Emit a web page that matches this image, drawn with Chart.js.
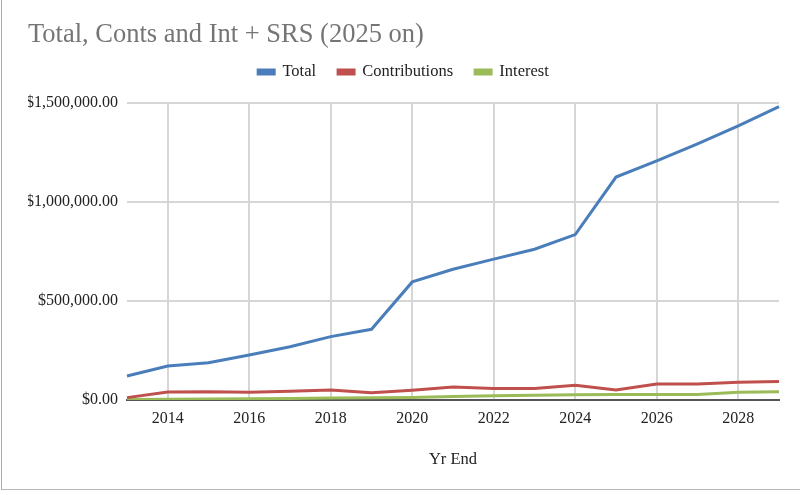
<!DOCTYPE html>
<html>
<head>
<meta charset="utf-8">
<script src="https://cdn.jsdelivr.net/npm/chart.js@4/dist/chart.umd.min.js"></script>
<style>
  html, body { margin: 0; padding: 0; background: #fff; }
  #wrap { position: relative; width: 800px; height: 490px; }
  #frame { position: absolute; left: 1px; top: 0; width: 799px; height: 489px;
           border-left: 1px solid #a8a8a8; border-bottom: 2px solid #b8b8b8; pointer-events: none; box-sizing: content-box; }
</style>
</head>
<body>
<div id="wrap">
  <canvas id="c" width="800" height="490"></canvas>
  <div id="frame"></div>
</div>
<script>
const years = [2013, 2014, 2015, 2016, 2017, 2018, 2019, 2020, 2021, 2022, 2023, 2024, 2025, 2026, 2027, 2028, 2029];
const total = [121000, 172000, 188000, 227000, 269000, 320000, 357000, 596000, 660000, 711000, 761000, 835000, 1125000, 1207000, 1293000, 1384000, 1481000];
const contributions = [12000, 40000, 42000, 39000, 44000, 51000, 37000, 49000, 65000, 58000, 58000, 74000, 50000, 81000, 81000, 90000, 94000];
const interest = [2000, 4000, 5000, 6000, 8000, 10000, 11000, 13000, 18000, 22000, 24000, 26000, 28000, 28000, 28000, 39000, 42000];
const yTicks = [0, 500000, 1000000, 1500000];

const serif = "'Liberation Serif', 'Times New Roman', serif";
const fmt = v => '$' + Number(v).toLocaleString('en-US', { minimumFractionDigits: 2, maximumFractionDigits: 2 });

const legendHeight = {
  id: 'legendHeight',
  afterInit(chart) {
    const lg = chart.legend;
    if (!lg) return;
    const orig = lg.fit.bind(lg);
    lg.fit = function () { orig(); this.height = 61; };
  }
};

new Chart(document.getElementById('c'), {
  type: 'line',
  data: {
    labels: years.map(String),
    datasets: [
      { label: 'Total', data: total, borderColor: '#4a7ebb', backgroundColor: '#4a7ebb', borderWidth: 3, pointRadius: 0, tension: 0 },
      { label: 'Contributions', data: contributions, borderColor: '#c0504d', backgroundColor: '#c0504d', borderWidth: 3, pointRadius: 0, tension: 0 },
      { label: 'Interest', data: interest, borderColor: '#9bbb59', backgroundColor: '#9bbb59', borderWidth: 3, pointRadius: 0, tension: 0 }
    ]
  },
  plugins: [legendHeight],
  options: {
    responsive: false,
    animation: false,
    layout: { padding: { left: 28, right: 21, top: 0, bottom: 0 } },
    plugins: {
      title: {
        display: true,
        text: 'Total, Conts and Int + SRS (2025 on)',
        align: 'start',
        color: '#757575',
        font: { family: serif, size: 26.5, weight: 'normal', lineHeight: 1.2 },
        padding: { top: 19, bottom: -9 }
      },
      legend: {
        display: true,
        position: 'top',
        labels: {
          color: '#222',
          font: { family: serif, size: 16.5 },
          boxWidth: 16,
          boxHeight: 4,
          padding: 22
        }
      },
      tooltip: { enabled: false }
    },
    scales: {
      x: {
        type: 'category',
        offset: false,
        afterFit: s => { s.height = 90; },
        border: { display: true, color: '#555', width: 2 },
        grid: {
          drawTicks: false,
          lineWidth: 2,
          color: ctx => (ctx.index !== undefined && years[ctx.index] % 2 === 0) ? '#d6d6d6' : 'rgba(0,0,0,0)'
        },
        ticks: {
          autoSkip: false,
          maxRotation: 0,
          padding: 9,
          color: '#222',
          font: { family: serif, size: 16 },
          callback: (v, i) => years[i] % 2 === 0 ? String(years[i]) : ''
        },
        title: {
          display: true,
          text: 'Yr End',
          color: '#222',
          font: { family: serif, size: 16.5 },
          padding: { top: 0, bottom: 20 }
        }
      },
      y: {
        min: 0,
        max: 1500000,
        afterFit: s => { s.width = 99; },
        afterBuildTicks: s => { s.ticks = yTicks.map(v => ({ value: v })); },
        border: { display: false },
        grid: { drawTicks: false, lineWidth: 2, color: '#d6d6d6' },
        ticks: {
          padding: 9,
          color: '#222',
          font: { family: serif, size: 16 },
          callback: v => fmt(v)
        }
      }
    }
  }
});
</script>
</body>
</html>
